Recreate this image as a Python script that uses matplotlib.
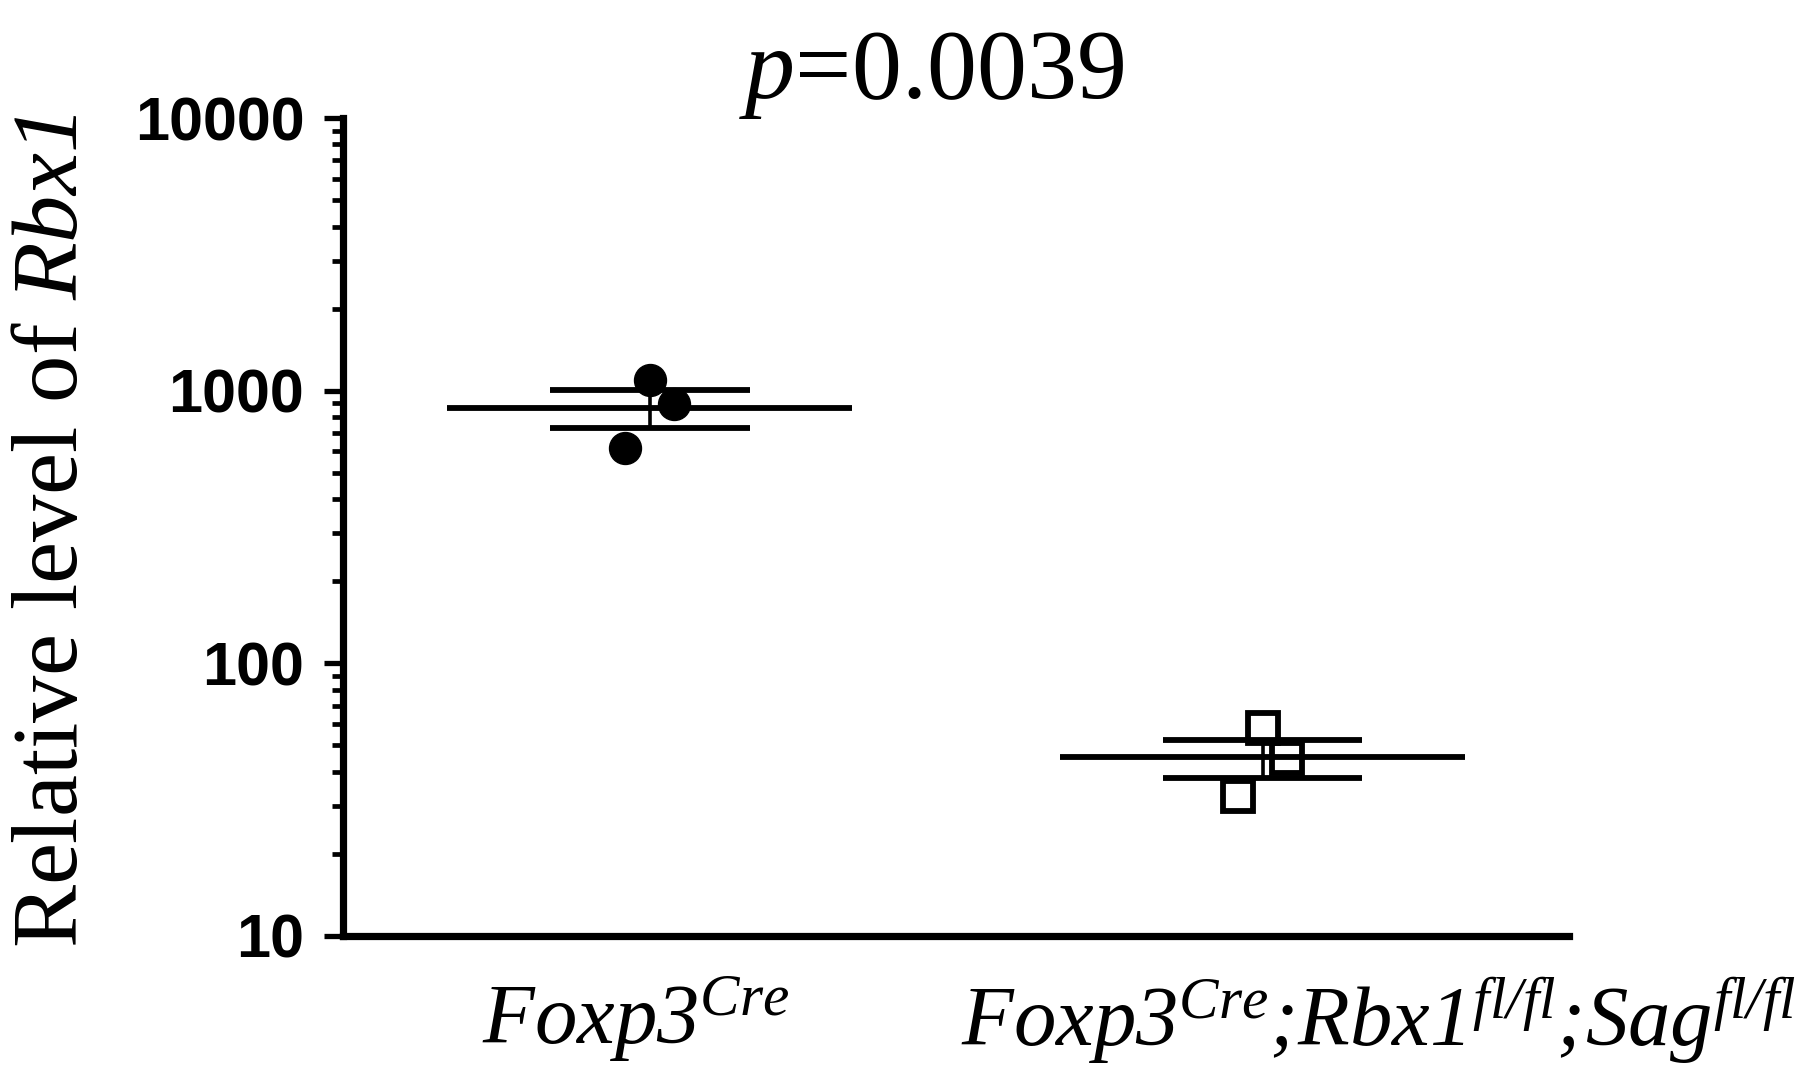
import numpy as np
import matplotlib
matplotlib.use('Agg')
import matplotlib.pyplot as plt
import matplotlib.transforms as mtransforms
from matplotlib.ticker import LogLocator, NullFormatter

# all math text in italic serif (digits included)
plt.rcParams['mathtext.fontset'] = 'custom'
plt.rcParams['mathtext.rm'] = 'Liberation Serif:italic'
plt.rcParams['mathtext.it'] = 'Liberation Serif:italic'
plt.rcParams['mathtext.bf'] = 'Liberation Serif:bold'

# relative Rbx1 expression per mouse
groups = [r'Foxp3$^{Cre}$',
          r'Foxp3$^{Cre}$;Rbx1$^{fl/fl}$;Sag$^{fl/fl}$']
ctrl = [1090, 895, 615]
dko = [58, 45, 32.7]
jitter = [0.0, 0.04, -0.04]   # horizontal spread of the dots
p_text = r'$p$=0.0039'

fig = plt.figure(figsize=(18.16, 10.73), dpi=100)
ax = fig.add_axes([0.189, 0.1277, 0.675, 0.7623])

lw = 4.2
for i, (vals, mk) in enumerate([(ctrl, 'o'), (dko, 's')]):
    vals = np.array(vals)
    xs = i + np.array(jitter)
    if mk == 'o':
        ax.plot(xs, vals, 'o', ms=23, color='black', zorder=3)
    else:
        ax.plot(xs, vals, 's', ms=22, mfc='none', mec='black', mew=4.2, zorder=3)
    m = vals.mean()
    sem = vals.std(ddof=1) / np.sqrt(len(vals))
    ax.hlines(m, i - 0.33, i + 0.33, color='black', lw=lw, zorder=4)
    ax.hlines([m - sem, m + sem], i - 0.163, i + 0.163, color='black', lw=lw, zorder=4)
    ax.vlines(i, m - sem, m + sem, color='black', lw=2.6, zorder=4)

ax.set_yscale('log')
ax.set_ylim(10, 10000)
ax.set_xlim(-0.5, 1.5)
ax.yaxis.set_minor_locator(LogLocator(base=10, subs=np.arange(2, 10), numticks=10))
ax.yaxis.set_minor_formatter(NullFormatter())
ax.set_yticks([10, 100, 1000, 10000])
ax.set_yticklabels(['10', '100', '1000', '10000'])

for side in ['top', 'right']:
    ax.spines[side].set_visible(False)
for side in ['left', 'bottom']:
    ax.spines[side].set_linewidth(5.2)

ax.tick_params(axis='y', which='major', length=14, width=3.8, pad=14,
               labelsize=44)
ax.tick_params(axis='y', which='minor', length=8, width=3.4)
for lab in ax.get_yticklabels():
    lab.set_fontfamily('Liberation Sans')
    lab.set_fontweight('bold')

ax.set_xticks([0, 1])
ax.set_xticklabels(groups, fontsize=61, family='Liberation Serif', style='italic')
ax.tick_params(axis='x', length=0, pad=28)
# nudge the category labels sideways
xl = ax.get_xticklabels()
for lab, dx in zip(xl, [-14, 116]):
    off = mtransforms.ScaledTranslation(dx / 100, 0, fig.dpi_scale_trans)
    lab.set_transform(lab.get_transform() + off)

fig.text(0.513, 1 - 98 / 1073, p_text, ha='center', va='baseline',
         fontsize=72, family='Liberation Serif')
fig.text(0.03, 0.505, r'Relative level of $Rbx1$', rotation=90,
         ha='center', va='center', fontsize=68, family='Liberation Serif')

fig.savefig('out.png', dpi=100)
